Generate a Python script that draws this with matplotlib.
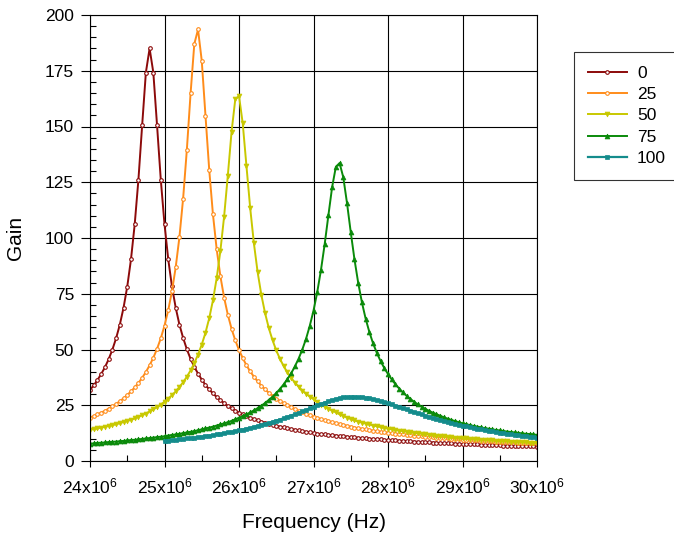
import numpy as np
import matplotlib
matplotlib.use('Agg')
import matplotlib.pyplot as plt
from matplotlib.ticker import MultipleLocator

plt.rcParams['font.family'] = ['Liberation Sans', 'DejaVu Sans']
plt.rcParams['mathtext.fontset'] = 'custom'
plt.rcParams['mathtext.rm'] = 'Liberation Sans'
plt.rcParams['mathtext.default'] = 'regular'

# frequency grid (Hz), 0.05 MHz steps
freq = np.round(np.arange(24.0, 30.001, 0.05), 2) * 1e6
freq_100 = np.round(np.arange(25.0, 30.001, 0.05), 2) * 1e6

gain_0 = [31.9, 33.9, 36.3, 39.0, 42.0, 45.6, 49.9, 55.0, 61.1, 68.7, 78.2, 90.4, 106.1, 126.2, 150.5, 174.2, 185.0, 174.2, 150.5, 126.2,
          106.2, 90.5, 78.3, 68.8, 61.2, 55.2, 50.1, 45.8, 42.2, 39.2, 36.5, 34.1, 32.1, 30.3, 28.7, 27.3, 25.9, 24.7, 23.6, 22.6,
          21.7, 20.9, 20.1, 19.4, 18.8, 18.2, 17.7, 17.2, 16.7, 16.3, 15.8, 15.4, 15.1, 14.7, 14.3, 14.0, 13.7, 13.4, 13.1, 12.8,
          12.6, 12.3, 12.1, 11.9, 11.7, 11.6, 11.4, 11.2, 11.1, 10.9, 10.7, 10.6, 10.4, 10.3, 10.1, 10.0, 9.9, 9.8, 9.7, 9.5,
          9.4, 9.3, 9.2, 9.1, 9.0, 8.9, 8.8, 8.7, 8.6, 8.5, 8.4, 8.35, 8.25, 8.15, 8.05, 8.0, 7.9, 7.85, 7.75, 7.7,
          7.6, 7.55, 7.5, 7.45, 7.4, 7.3, 7.25, 7.2, 7.1, 7.05, 7.0, 6.95, 6.9, 6.85, 6.8, 6.75, 6.7, 6.65, 6.6, 6.55, 6.5]

gain_25 = [19.4, 20.1, 20.9, 21.7, 22.5, 23.5, 24.5, 25.6, 26.8, 28.1, 29.6, 31.2, 33.0, 35.0, 37.3, 39.9, 42.9, 46.3, 50.3, 55.0,
           60.7, 67.6, 76.1, 86.8, 100.3, 117.7, 139.6, 164.8, 187.0, 193.5, 179.5, 154.9, 130.7, 110.7, 95.1, 82.9, 73.3, 65.6, 59.3, 54.1,
           49.8, 46.2, 42.9, 40.2, 37.8, 35.7, 33.8, 32.1, 30.6, 29.3, 28.0, 26.9, 25.9, 24.9, 24.1, 23.2, 22.5, 21.8, 21.2, 20.5,
           19.9, 19.3, 18.8, 18.3, 17.8, 17.4, 17.0, 16.6, 16.2, 15.7, 15.4, 15.0, 14.7, 14.4, 14.2, 13.9, 13.6, 13.4, 13.1, 12.9,
           12.7, 12.5, 12.3, 12.1, 11.9, 11.7, 11.5, 11.4, 11.2, 11.0, 10.9, 10.7, 10.6, 10.5, 10.3, 10.2, 10.1, 9.9, 9.8, 9.7,
           9.6, 9.5, 9.4, 9.3, 9.2, 9.1, 9.0, 8.9, 8.8, 8.7, 8.6, 8.5, 8.5, 8.4, 8.3, 8.2, 8.2, 8.1, 8.0, 7.9, 7.9]

gain_50 = [14.0, 14.3, 14.6, 15.0, 15.3, 15.7, 16.0, 16.5, 16.9, 17.5, 17.9, 18.5, 19.1, 19.8, 20.5, 21.3, 22.2, 23.1, 24.2, 25.3,
           26.6, 28.0, 29.5, 31.2, 33.2, 35.3, 37.8, 40.6, 43.9, 47.7, 52.2, 57.5, 64.0, 72.0, 81.9, 94.2, 109.6, 128.0, 147.6, 162.2,
           163.7, 151.4, 132.3, 113.5, 97.6, 84.7, 74.5, 66.3, 59.6, 54.2, 49.6, 45.8, 42.5, 39.7, 37.3, 35.2, 33.3, 31.6, 30.2, 28.9,
           27.7, 26.4, 25.3, 24.4, 23.5, 22.6, 21.8, 20.9, 20.2, 19.5, 18.8, 18.2, 17.7, 17.2, 16.8, 16.4, 15.9, 15.6, 15.2, 14.9,
           14.5, 14.2, 13.9, 13.6, 13.4, 13.1, 12.8, 12.6, 12.4, 12.2, 12.0, 11.8, 11.6, 11.4, 11.2, 11.0, 10.9, 10.7, 10.5, 10.4,
           10.2, 10.1, 10.0, 9.8, 9.7, 9.6, 9.5, 9.3, 9.2, 9.1, 9.0, 8.9, 8.8, 8.7, 8.6, 8.5, 8.4, 8.3, 8.2, 8.2, 8.1]

gain_75 = [7.8, 7.9, 8.1, 8.2, 8.3, 8.5, 8.6, 8.7, 8.9, 9.0, 9.2, 9.4, 9.5, 9.7, 9.9, 10.1, 10.3, 10.5, 10.7, 10.9,
           11.1, 11.4, 11.7, 11.9, 12.2, 12.5, 12.8, 13.1, 13.4, 13.8, 14.2, 14.6, 15.0, 15.4, 15.9, 16.4, 16.9, 17.4, 18.0, 18.7,
           19.4, 20.1, 20.9, 21.8, 22.7, 23.7, 24.8, 26.0, 27.4, 28.8, 30.5, 32.3, 34.4, 36.7, 39.3, 42.4, 45.9, 50.0, 54.8, 60.6,
           67.4, 75.7, 85.6, 97.2, 110.2, 122.8, 131.9, 133.6, 127.2, 115.6, 102.6, 90.4, 79.9, 71.1, 63.8, 57.8, 52.7, 48.5, 44.8, 41.7,
           39.0, 36.6, 34.4, 32.5, 30.8, 29.2, 27.8, 26.6, 25.4, 24.4, 23.4, 22.5, 21.7, 21.0, 20.3, 19.6, 19.0, 18.4, 17.9, 17.4,
           16.9, 16.5, 16.1, 15.7, 15.4, 15.1, 14.7, 14.5, 14.2, 13.9, 13.7, 13.4, 13.2, 13.0, 12.8, 12.6, 12.4, 12.2, 12.1, 11.9, 11.7]

gain_100 = [9.0, 9.1, 9.3, 9.5, 9.7, 9.9, 10.1, 10.3, 10.5, 10.7, 10.9, 11.1, 11.4, 11.6, 11.9, 12.2, 12.5, 12.8, 13.1, 13.4,
            13.7, 14.1, 14.5, 14.8, 15.3, 15.7, 16.1, 16.6, 17.1, 17.6, 18.1, 18.6, 19.2, 19.8, 20.4, 21.0, 21.6, 22.3, 22.9, 23.6,
            24.3, 24.9, 25.6, 26.2, 26.8, 27.3, 27.8, 28.2, 28.5, 28.7, 28.8, 28.8, 28.7, 28.6, 28.4, 28.1, 27.8, 27.4, 26.9, 26.4,
            25.9, 25.4, 24.8, 24.3, 23.7, 23.1, 22.6, 22.0, 21.4, 20.9, 20.4, 19.9, 19.3, 18.9, 18.4, 17.9, 17.5, 17.1, 16.6, 16.2,
            15.9, 15.5, 15.1, 14.8, 14.5, 14.2, 13.8, 13.6, 13.3, 13.0, 12.7, 12.5, 12.2, 12.0, 11.8, 11.5, 11.3, 11.1, 10.9, 10.7, 10.5]

labels = ['0', '25', '50', '75', '100']
xticks = [24e6, 25e6, 26e6, 27e6, 28e6, 29e6, 30e6]
xtick_labels = ['24x10$^6$', '25x10$^6$', '26x10$^6$', '27x10$^6$', '28x10$^6$', '29x10$^6$', '30x10$^6$']

fig = plt.figure(figsize=(6.74, 5.40), dpi=100)
ax = fig.add_axes([90/674, 1 - 461/540, 447/674, 446/540])

ax.plot(freq, gain_0, color='#8c0a0a', lw=1.4, marker='o', ms=2.6, mfc='white', mew=0.8, label=labels[0])
ax.plot(freq, gain_25, color='#ff8c1a', lw=1.4, marker='o', ms=2.6, mfc='white', mew=0.8, label=labels[1])
ax.plot(freq, gain_50, color='#c8c800', lw=1.4, marker='v', ms=3.5, mew=0.5, label=labels[2])
ax.plot(freq, gain_75, color='#0a8a0a', lw=1.4, marker='^', ms=3.5, mew=0.5, label=labels[3])
ax.plot(freq_100, gain_100, color='#148c8c', lw=1.6, marker='s', ms=3.5, mew=0.5, label=labels[4])

ax.set_xlim(24e6, 30e6)
ax.set_ylim(0, 200)
ax.set_xticks(xticks)
ax.set_xticklabels(xtick_labels)
ax.set_yticks(range(0, 201, 25))
ax.xaxis.set_minor_locator(MultipleLocator(0.5e6))
ax.yaxis.set_minor_locator(MultipleLocator(5))
ax.grid(True, which='major', color='black', lw=0.8)
ax.set_axisbelow(True)
for s in ax.spines.values():
    s.set_linewidth(0.8)

ax.tick_params(which='major', direction='out', labelsize=12.5, width=0.8)
ax.tick_params(axis='x', which='major', length=4.5, pad=7)
ax.tick_params(axis='y', which='major', length=6.5, pad=5)
ax.tick_params(which='minor', direction='in', length=4, width=0.8)

ax.set_xlabel('Frequency (Hz)', fontsize=15)
ax.set_ylabel('Gain', fontsize=15)
ax.xaxis.set_label_coords(0.5, -0.117)
ax.yaxis.set_label_coords(-0.145, 0.5)

leg = ax.legend(loc='upper left', bbox_to_anchor=(574/674, 1 - 52/540), bbox_transform=fig.transFigure,
                borderaxespad=0, fontsize=12.5, frameon=True, fancybox=False, numpoints=1,
                handlelength=2.25, handletextpad=0.58, labelspacing=0.35, borderpad=0.8)
leg.get_frame().set_edgecolor('black')
leg.get_frame().set_linewidth(0.8)

fig.savefig('out.png', dpi=100)
